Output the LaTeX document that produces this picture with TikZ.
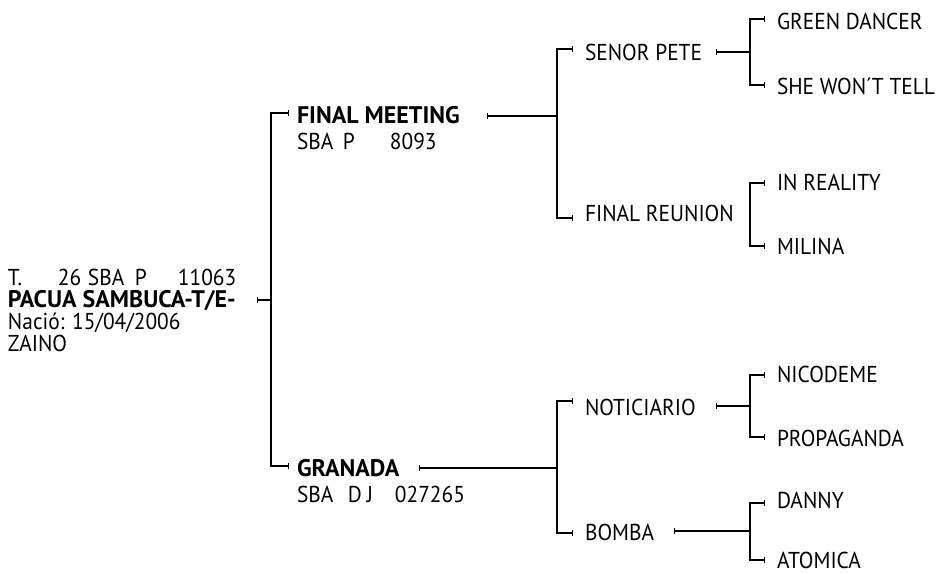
\documentclass[tikz,border=0pt]{standalone}
\usepackage{fontspec}
\setmainfont{PT Sans}
\newfontfamily\condfont{PT Sans}[FakeStretch=0.93]
\usetikzlibrary{arrows.meta}
\begin{document}
\begin{tikzpicture}[x=1pt,y=-1pt,
  lbl/.style={anchor=base west, inner sep=0pt, outer sep=0pt, font=\condfont\fontsize{23}{26}\selectfont},
  bold/.style={lbl, font=\fontsize{24}{28}\selectfont\bfseries},
  link/.style={line width=1.3pt, line cap=butt},
  tipend/.style={link, -{Bar[width=6pt,line width=1.3pt]}},
  tipstart/.style={link, {Bar[width=6pt,line width=1.3pt]}-},
  tipboth/.style={link, {Bar[width=6pt,line width=1.3pt]}-{Bar[width=6pt,line width=1.3pt]}}]
\useasboundingbox (0,0) rectangle (939,573);

% root
\node[lbl] (rootA) at (8,285) {\makebox[50pt][l]{T.}\makebox[30pt][l]{26}\makebox[47pt][l]{SBA}\makebox[43pt][l]{P}11063};
\node[bold] (root) at (8,307) {PACUA SAMBUCA-T/E-};
\node[lbl] (rootB) at (8,329) {Nació: 15/04/2006};
\node[lbl] (rootC) at (8,351) {ZAINO};

% generation 1
\node[bold] (fm) at (297,123) {FINAL MEETING};
\node[lbl] (fmreg) at (297,149) {\makebox[46pt][l]{SBA}\makebox[47pt][l]{P}8093};
\node[bold] (gr) at (297,476) {GRANADA};
\node[lbl] (grreg) at (297,502) {\makebox[51pt][l]{SBA}\makebox[19pt][l]{D}\makebox[28pt][l]{J}027265};

% generation 2
\node[lbl] (senor) at (585,60) {SENOR PETE};
\node[lbl] (freun) at (585,221) {FINAL REUNION};
\node[lbl] (notic) at (585,415) {NOTICIARIO};
\node[lbl] (bomba) at (585,540) {BOMBA};

% generation 3
\node[lbl] (green) at (777,29) {GREEN DANCER};
\node[lbl] (she) at (777,94) {SHE WON´T TELL};
\node[lbl] (inreal) at (777,190) {IN REALITY};
\node[lbl] (milina) at (777,254) {MILINA};
\node[lbl] (nico) at (777,382) {NICODEME};
\node[lbl] (propa) at (777,446) {PROPAGANDA};
\node[lbl] (danny) at (777,508) {DANNY};
\node[lbl] (atomica) at (777,568) {ATOMICA};

% connector coordinates
\coordinate (rootT) at (257,300);
\coordinate (j1) at (271,300);
\coordinate (fmT) at (289,113);
\coordinate (grT) at (289,466);

\coordinate (fmS) at (487,116);
\coordinate (j2a) at (557,116);
\coordinate (senorT) at (573,49);
\coordinate (freunT) at (573,218);

\coordinate (grS) at (419,468);
\coordinate (j2b) at (557,468);
\coordinate (noticT) at (573,401);
\coordinate (bombaT) at (573,533);

\coordinate (senorS) at (716,52);
\coordinate (j3a) at (750,52);
\coordinate (greenT) at (765,19);
\coordinate (sheT) at (765,85);

\coordinate (inrealT) at (765,183);
\coordinate (milinaT) at (765,246);

\coordinate (noticS) at (716,406);
\coordinate (j3c) at (750,406);
\coordinate (nicoT) at (765,375);
\coordinate (propaT) at (765,437);

\coordinate (bombaS) at (674,531);
\coordinate (j3d) at (750,531);
\coordinate (dannyT) at (765,503);
\coordinate (atomicaT) at (765,560);

% connectors
\draw[tipstart] (rootT) -- (j1);
\draw[tipend] (j1) |- (fmT);
\draw[tipend] (j1) |- (grT);

\draw[tipstart] (fmS) -- (j2a);
\draw[tipend] (j2a) |- (senorT);
\draw[tipend] (j2a) |- (freunT);

\draw[tipstart] (grS) -- (j2b);
\draw[tipend] (j2b) |- (noticT);
\draw[tipend] (j2b) |- (bombaT);

\draw[tipstart] (senorS) -- (j3a);
\draw[tipend] (j3a) |- (greenT);
\draw[tipend] (j3a) |- (sheT);

\draw[tipboth] (inrealT) -| ([xshift=-15pt]inrealT) |- (milinaT);

\draw[tipstart] (noticS) -- (j3c);
\draw[tipend] (j3c) |- (nicoT);
\draw[tipend] (j3c) |- (propaT);

\draw[tipstart] (bombaS) -- (j3d);
\draw[tipend] (j3d) |- (dannyT);
\draw[tipend] (j3d) |- (atomicaT);
\end{tikzpicture}
\end{document}
